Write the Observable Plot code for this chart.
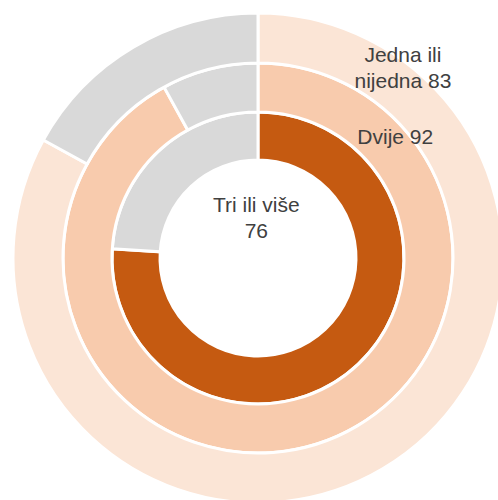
<!DOCTYPE html>
<html>
<head>
<meta charset="utf-8">
<script src="https://cdn.jsdelivr.net/npm/d3@7"></script>
<script src="https://cdn.jsdelivr.net/npm/@observablehq/plot@0.6"></script>
<style>
  html, body { margin: 0; padding: 0; background: #fff; }
</style>
</head>
<body>
<div id="chart"></div>
<script>
// Data (inner ring to outer ring)
const categories = ["Tri ili više", "Dvije", "Jedna ili nijedna"];
const values = [76, 92, 83];
const labelTexts = ["Tri ili više\n76", "Dvije 92", "Jedna ili\nnijedna 83"];

const colors = ["#C55A11", "#F8CBAD", "#FBE5D6"];
const rest = "#D9D9D9";

const W = 498, H = 500;
const ringInner = [98, 146, 195];
const ringOuter = [146, 195, 245];

// Segments built from the data: colored share + remainder
const segments = categories.flatMap((c, i) => [
  {ring: i, cat: c, start: 0, end: values[i], fill: colors[i]},
  {ring: i, cat: c, start: values[i], end: 100, fill: rest}
]);

const angle = d3.scaleLinear().domain([0, 100]).range([0, 2 * Math.PI]);

function rings(index, scales, vals, dims) {
  const cx = scales.x(0), cy = scales.y(0);
  const unit = scales.x(1) - scales.x(0);
  const arc = d3.arc();
  const g = d3.create("svg:g").attr("transform", `translate(${cx},${cy})`);
  g.selectAll("path").data(segments).join("path")
    .attr("d", d => arc({
      innerRadius: ringInner[d.ring] * unit,
      outerRadius: ringOuter[d.ring] * unit,
      startAngle: angle(d.start),
      endAngle: angle(d.end)
    }))
    .attr("fill", d => d.fill)
    .attr("stroke", "#fff")
    .attr("stroke-width", 3)
    .attr("stroke-linejoin", "miter");
  return g.node();
}

// label placement (polar: degrees clockwise from top, radius)
const labelPlace = [[-3, 42], [48, 184], [37, 240]];
const labels = categories.map((c, i) => ({
  text: labelTexts[i],
  x: labelPlace[i][1] * Math.sin(labelPlace[i][0] * Math.PI / 180),
  y: labelPlace[i][1] * Math.cos(labelPlace[i][0] * Math.PI / 180)
}));

const plot = Plot.plot({
  width: W,
  height: H,
  margin: 0,
  x: {domain: [-258, 240], axis: null},
  y: {domain: [-242, 258], axis: null},
  style: {background: "#fff"},
  marks: [
    rings,
    Plot.text(labels, {
      x: "x", y: "y", text: "text",
      fontSize: 21,
      lineHeight: 1.25,
      fill: "#404040",
      fontFamily: "'Liberation Sans', Arial, sans-serif"
    })
  ]
});
document.getElementById("chart").appendChild(plot);
</script>
</body>
</html>
